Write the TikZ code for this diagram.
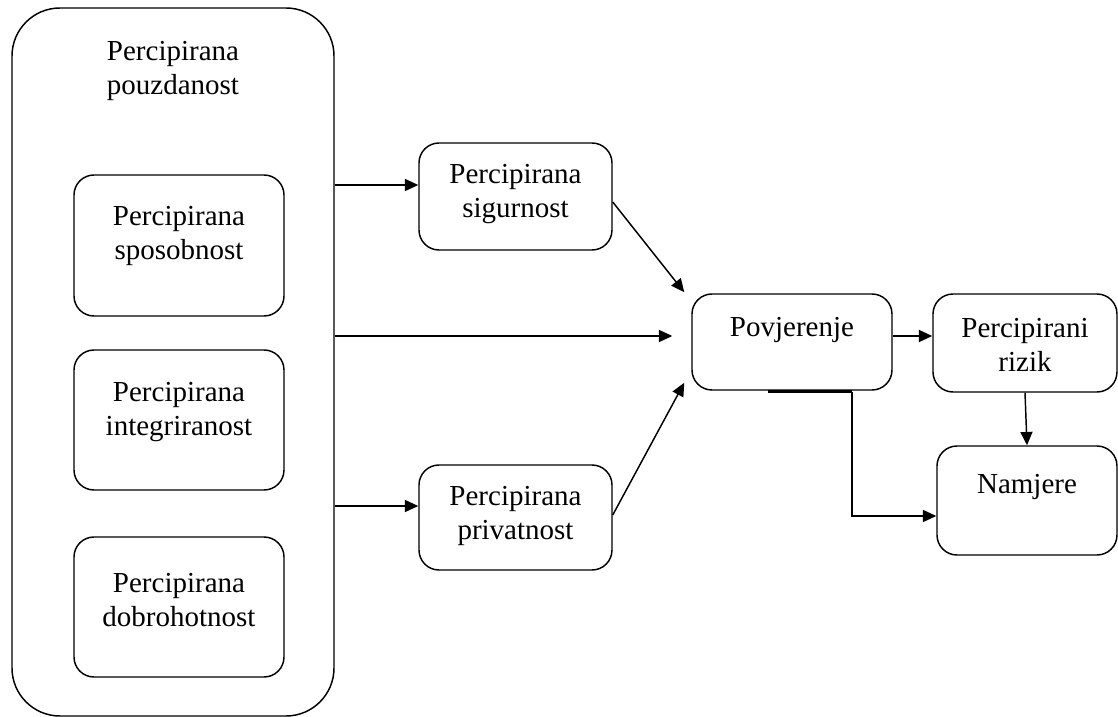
\documentclass[tikz,border=0pt]{standalone}
\usepackage{fontspec}
\setmainfont{Liberation Serif}
\usetikzlibrary{arrows.meta}

\tikzset{every picture/.style={line width=1.1pt}}
\tikzset{
	box/.style 2 args={draw, rounded corners=15pt, minimum width=#1*0.75pt, minimum height=#2*0.75pt, inner sep=0pt},
	txt/.style={align=center, inner sep=0.75pt, font=\fontsize{21.75}{25.5}\selectfont},
	arr/.style={-{Triangle[length=10pt,width=9pt]}},
}

\begin{document}
\begin{tikzpicture}[x=0.75pt,y=0.75pt,yscale=-1,xscale=1]
	\useasboundingbox (0,0) rectangle (1118,717);
	
	%Shape: Rounded Rect [id:pouz] 
	\node[box={322}{708}, rounded corners=36pt] (pouz) at (173,362) {};
	%Shape: Rounded Rect [id:spos] 
	\node[box={210}{141}] (spos) at (179,245.5) {};
	%Shape: Rounded Rect [id:integ] 
	\node[box={210}{140}] (integ) at (179,420) {};
	%Shape: Rounded Rect [id:dobro] 
	\node[box={210}{140}] (dobro) at (179,607) {};
	%Shape: Rounded Rect [id:sig] 
	\node[box={193}{107}] (sig) at (515.5,196.5) {};
	%Shape: Rounded Rect [id:priv] 
	\node[box={193}{105}] (priv) at (515.5,517.5) {};
	%Shape: Rounded Rect [id:pov] 
	\node[box={200}{96}] (pov) at (792,342) {};
	%Shape: Rounded Rect [id:riz] 
	\node[box={184}{98}] (riz) at (1025,343) {};
	%Shape: Rounded Rect [id:nam] 
	\node[box={180}{109}] (nam) at (1027,500.5) {};
	
	% Text Node
	\node[txt] (pouzT) at (173,70.5) {Percipirana\\pouzdanost};
	% Text Node
	\node[txt] (sposT) at (179,236) {Percipirana\\sposobnost};
	% Text Node
	\node[txt] (integT) at (179,412) {Percipirana\\integriranost};
	% Text Node
	\node[txt] (dobroT) at (179,600) {Percipirana\\dobrohotnost};
	% Text Node
	\node[txt] (sigT) at (515.5,194.5) {Percipirana\\sigurnost};
	% Text Node
	\node[txt] (privT) at (515.5,516) {Percipirana\\privatnost};
	% Text Node
	\node[txt] (povT) at (792,330) {Povjerenje};
	% Text Node
	\node[txt] (rizT) at (1025,345) {Percipirani\\rizik};
	% Text Node
	\node[txt] (namT) at (1027,487) {Namjere};
	
	%Straight Lines
	\path (sig.west) ++(0,-11.5) coordinate (sigIn);
	\draw[arr] (pouz.east |- sigIn) -- (sigIn);
	\path (pov.west) ++(-19,-6) coordinate (povIn);
	\draw[arr] (pouz.east |- povIn) -- (povIn);
	\path (priv.west) ++(0,-11.5) coordinate (privIn);
	\draw[arr] (pouz.east |- privIn) -- (privIn);
	\path (sig.east) ++(0,5.5) coordinate (sigOut);
	\path (pov.north west) ++(-7,-1) coordinate (povTL);
	\draw[arr] (sigOut) -- (povTL);
	\path (priv.east) ++(0,-2.5) coordinate (privOut);
	\path (pov.south west) ++(-7,-8) coordinate (povBL);
	\draw[arr] (privOut) -- (povBL);
	\path (riz.west) ++(0,-7) coordinate (rizIn);
	\draw[arr] (pov.east |- rizIn) -- (rizIn);
	\draw[arr] (riz.south) -- (nam.north);
	
	%Elbow Line
	\path (pov.south) ++(-24,1) coordinate (povB1);
	\path (pov.south) ++(60,1) coordinate (povB2);
	\draw[line width=2.2pt] (povB1) -- (povB2);
	\path (nam.west) ++(0,15.5) coordinate (namIn);
	\draw[arr] (povB2) |- (namIn);
	
\end{tikzpicture}
\end{document}
